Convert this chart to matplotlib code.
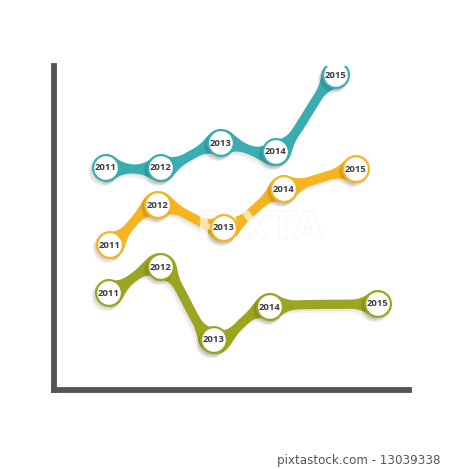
import numpy as np
import matplotlib
matplotlib.use("Agg")
import matplotlib.pyplot as plt
import matplotlib.patheffects as pe

# series positions (chart units, origin at the axis corner)
years = ["2011", "2012", "2013", "2014", "2015"]

teal_x = [52, 107, 167, 222, 282]
teal_y = [222, 222, 247, 238, 315]

orange_x = [56, 104, 170, 230, 302]
orange_y = [145, 185, 162, 201, 221]

green_x = [55, 107, 160, 216, 324]
green_y = [97, 123, 50, 83, 86]

colors = {"teal": "#3aadb3", "orange": "#f6b41f", "green": "#9ba520"}

R = 14.0      # circle radius (chart units == pixels)
HW = 4.6      # half width of the ribbon waist
RF = 30.0     # fillet radius where ribbon meets a circle


def spline(px, py, n=300):
    P = np.column_stack([px, py]).astype(float)
    k = len(P)
    T = np.zeros_like(P)
    for i in range(k):
        if i == 0:
            T[i] = P[1] - P[0]
        elif i == k - 1:
            T[i] = P[-1] - P[-2]
        else:
            T[i] = (P[i + 1] - P[i - 1]) / 2
        T[i, 1] *= 0.6   # flatter tangents -> more S-shaped links
    segs = []
    for i in range(k - 1):
        t = np.linspace(0, 1, n)[:, None]
        h00 = 2 * t**3 - 3 * t**2 + 1
        h10 = t**3 - 2 * t**2 + t
        h01 = -2 * t**3 + 3 * t**2
        h11 = t**3 - t**2
        seg = h00 * P[i] + h10 * T[i] + h01 * P[i + 1] + h11 * T[i + 1]
        segs.append(seg)
    return P, segs


def half_width(s):
    # ribbon half width at distance s from a circle centre (circle + fillet)
    sc = np.sqrt((R + RF) ** 2 - (HW + RF) ** 2)
    st = sc * R / (R + RF)
    h = np.full_like(s, HW)
    m = (s > st) & (s < sc)
    h[m] = HW + RF - np.sqrt(np.clip(RF ** 2 - (s[m] - sc) ** 2, 0, None))
    m2 = s <= st
    h[m2] = np.sqrt(np.clip(R ** 2 - s[m2] ** 2, 0, None)) * 0.98
    return h


def ribbon(ax, px, py, color):
    P, segs = spline(px, py)
    for i, seg in enumerate(segs):
        d = np.gradient(seg, axis=0)
        d /= np.linalg.norm(d, axis=1)[:, None]
        nrm = np.column_stack([-d[:, 1], d[:, 0]])
        d0 = np.linalg.norm(seg - P[i], axis=1)
        d1 = np.linalg.norm(seg - P[i + 1], axis=1)
        h = np.maximum(half_width(d0), half_width(d1))
        left = seg + nrm * h[:, None]
        right = seg - nrm * h[:, None]
        poly = np.vstack([left, right[::-1]])
        # soft shadow
        for k, a in [(1.5, 0.05), (3.0, 0.05)]:
            ax.fill(poly[:, 0] - k, poly[:, 1] - k * 1.3, color="#000000",
                    alpha=a, lw=0, zorder=1)
        ax.fill(poly[:, 0], poly[:, 1], color=color, lw=0, zorder=2)


def nodes(ax, px, py, color):
    for x, y, lab in zip(px, py, years):
        for k, a in [(1.0, 0.05), (2.0, 0.05), (3.0, 0.05)]:
            ax.add_patch(plt.Circle((x - k, y - k * 1.3), R + 0.3, color="black",
                                    alpha=a, lw=0, zorder=3))
        ax.add_patch(plt.Circle((x, y), R, facecolor=color, lw=0, zorder=4))
        ax.add_patch(plt.Circle((x, y), R - 2.2, facecolor="white", lw=0, zorder=5))
        ax.text(x, y, lab, ha="center", va="center", fontsize=6.8,
                fontweight="bold", color="#3d3d3d", zorder=6,
                family="Open Sans")


fig = plt.figure(figsize=(4.5, 4.69), dpi=100)
ax = fig.add_axes([54 / 450, (469 - 390) / 469, (409 - 54) / 450, (390 - 66) / 469])
ax.set_xlim(0, 409 - 54)
ax.set_ylim(0, 390 - 66)
for s in ["top", "right"]:
    ax.spines[s].set_visible(False)
for s in ["left", "bottom"]:
    ax.spines[s].set_color("#555555")
    ax.spines[s].set_linewidth(4.2)
ax.set_xticks([])
ax.set_yticks([])

for (sx, sy, c) in [(teal_x, teal_y, colors["teal"]),
                    (orange_x, orange_y, colors["orange"]),
                    (green_x, green_y, colors["green"])]:
    ribbon(ax, sx, sy, c)
    nodes(ax, sx, sy, c)

# faint watermark
ax.text(206, 162, "PIXTA", fontsize=28, color="white", alpha=0.4,
        fontweight="bold", ha="center", va="center", zorder=3.5,
        family="DejaVu Sans",
        path_effects=[pe.withStroke(linewidth=0.8, foreground="#e8e8e8")])

fig.text(440 / 450, 1 - 460 / 469, "pixtastock.com - 13039338", ha="right",
         va="center", fontsize=8.6, color="#555555", family="DejaVu Sans")

fig.savefig("out.png", dpi=100)
